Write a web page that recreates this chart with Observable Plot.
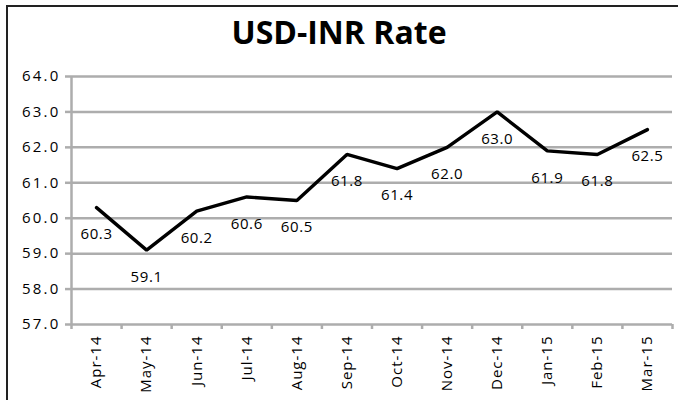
<!DOCTYPE html>
<html>
<head>
<meta charset="utf-8">
<script src="https://cdn.jsdelivr.net/npm/d3@7"></script>
<script src="https://cdn.jsdelivr.net/npm/@observablehq/plot@0.6"></script>
<style>
  html, body { margin: 0; padding: 0; background: #fff; }
  #wrap { position: relative; width: 678px; height: 400px; overflow: hidden; background: #fff; }
  #border { position: absolute; left: 6px; top: 5px; width: 720px; height: 440px;
            border-left: 2px solid #222; border-top: 2px solid #222; box-sizing: border-box; }
  #title { position: absolute; left: 0; top: 15px; width: 678px; text-align: center;
           font-family: "Open Sans", "Liberation Sans", sans-serif; font-weight: bold; font-size: 32px;
           color: #000; line-height: 34px; }
  #chart { position: absolute; left: 0; top: 0; }
  #chart g[aria-label="y-axis tick label"] text { letter-spacing: 2.2px; }
  #chart g[aria-label="x-axis tick label"] text { letter-spacing: 1px; }
  #chart g[aria-label="text"] text { letter-spacing: 0.6px; }
</style>
</head>
<body>
<div id="wrap">
  <div id="chart"></div>
  <div id="border"></div>
  <div id="title">USD-INR Rate</div>
</div>
<script>
const months = ["Apr-14","May-14","Jun-14","Jul-14","Aug-14","Sep-14","Oct-14","Nov-14","Dec-14","Jan-15","Feb-15","Mar-15"];
const rates = [60.3, 59.1, 60.2, 60.6, 60.5, 61.8, 61.4, 62.0, 63.0, 61.9, 61.8, 62.5];
const yTicks = [57, 58, 59, 60, 61, 62, 63, 64];

const data = months.map((m, i) => ({i, month: m, rate: rates[i]}));
const idx = months.map((m, i) => i);
const bounds = d3.range(-0.5, months.length, 1);

const font = "'Open Sans', 'Liberation Sans', sans-serif";
const grid = "#adadad";

const chart = Plot.plot({
  width: 678,
  height: 400,
  marginLeft: 71,
  marginRight: 6,
  marginTop: 76,
  marginBottom: 76,
  style: {fontFamily: font, fontSize: "15px", color: "#000", background: "transparent"},
  x: {type: "linear", domain: [-0.5, months.length - 0.5], label: null},
  y: {domain: [57, 64], label: null},
  marks: [
    Plot.ruleY(yTicks, {stroke: grid, strokeWidth: 2.5}),
    Plot.ruleX([-0.5], {stroke: grid, strokeWidth: 2.5}),
    Plot.axisY({ticks: yTicks, tickFormat: d3.format(".1f"), tickSize: 6, tickPadding: 5, label: null,
                stroke: grid, strokeWidth: 2.5, strokeOpacity: 1, fontSize: 15}),
    Plot.axisX({ticks: bounds, tickFormat: () => "", tickSize: 5, label: null,
                stroke: grid, strokeWidth: 2.5, strokeOpacity: 1}),
    Plot.axisX({ticks: idx, tickFormat: i => months[i], tickSize: 0, tickPadding: 11, label: null,
                tickRotate: -90, fontSize: 15}),
    Plot.line(data, {x: "i", y: "rate", stroke: "#000", strokeWidth: 3.4, strokeLinejoin: "miter"}),
    Plot.text(data, {x: "i", y: "rate", text: d => d3.format(".1f")(d.rate), dy: 27,
                     fontSize: 15, fill: "#000"})
  ]
});
document.getElementById("chart").appendChild(chart);
</script>
</body>
</html>
